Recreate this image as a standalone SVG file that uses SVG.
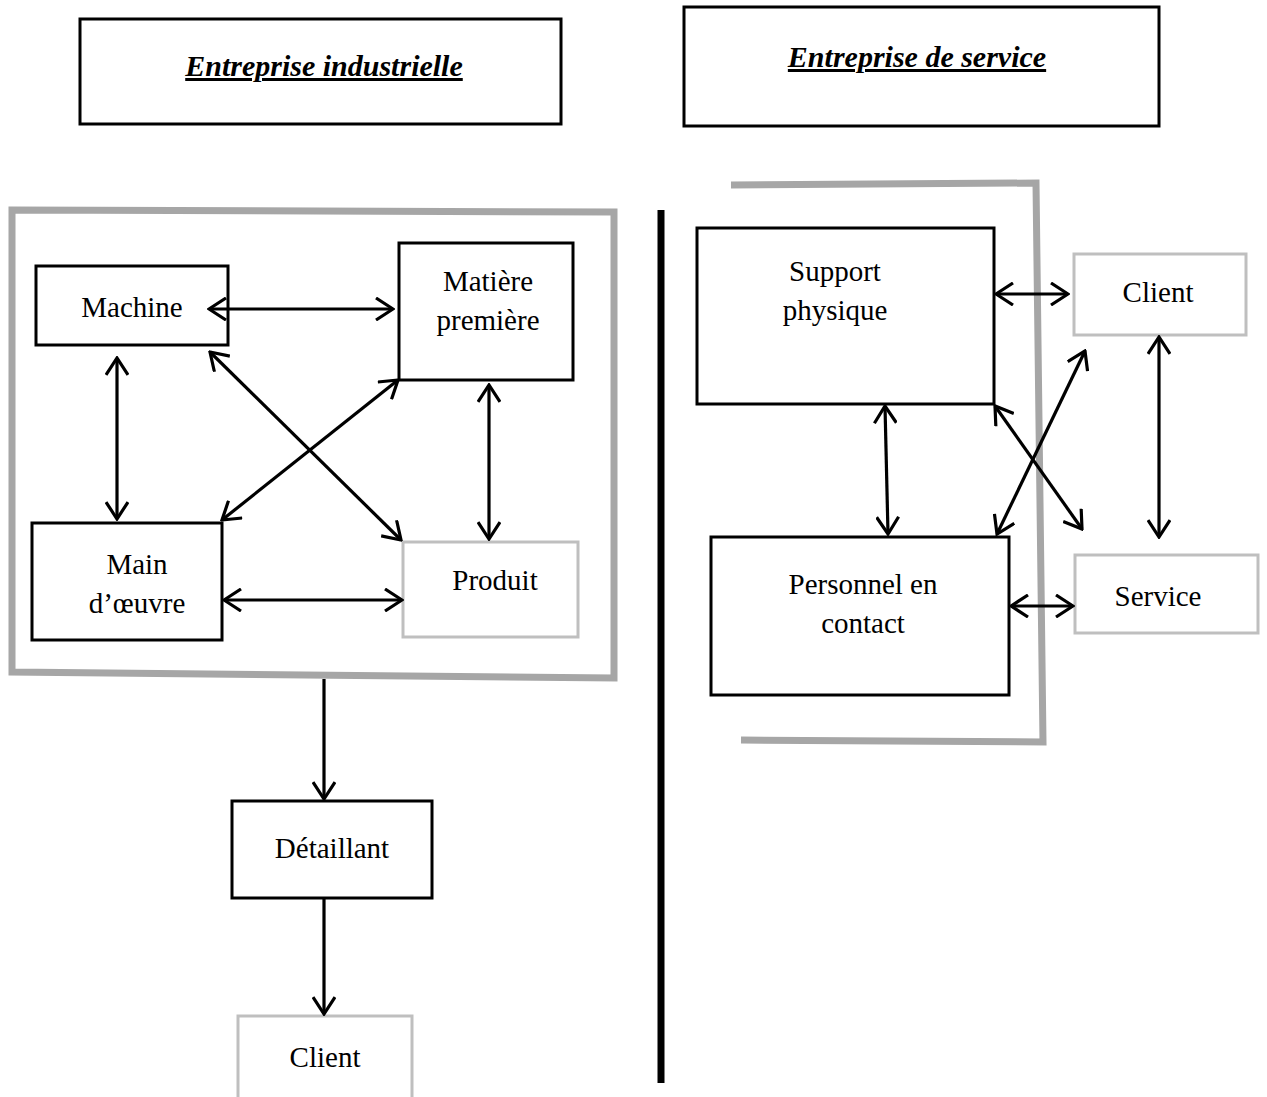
<svg xmlns="http://www.w3.org/2000/svg" width="1267" height="1097" viewBox="0 0 1267 1097">
  <style>
    .box { fill: #ffffff; stroke: #000000; stroke-width: 3; }
    .gbox { fill: #ffffff; stroke: #bfbfbf; stroke-width: 3; }
    .frame { fill: none; stroke: #a6a6a6; stroke-width: 7; }
    .lbl { font-family: "Liberation Serif", "Times New Roman", serif; font-size: 29px; fill: #000000; text-anchor: middle; }
    .title { font-family: "Liberation Serif", "Times New Roman", serif; font-size: 30px; font-weight: bold; font-style: italic; text-decoration: underline; fill: #000000; text-anchor: middle; }
    .conn { stroke: #000000; stroke-width: 3.2; fill: none; }
  </style>
  <defs>
    <marker id="arr" markerUnits="userSpaceOnUse" markerWidth="24" markerHeight="24" viewBox="0 0 24 24" refX="22" refY="12" orient="auto-start-reverse">
      <path d="M5,1 L22,12 L5,23" fill="none" stroke="#000000" stroke-width="3.2"/>
    </marker>
  </defs>
  <rect width="1267" height="1097" fill="#ffffff"/>

  <!-- headers -->
  <g id="header-industrielle">
    <rect class="box" x="80" y="19" width="481" height="105"/>
    <text class="title" x="324" y="76">Entreprise industrielle</text>
  </g>
  <g id="header-service">
    <rect class="box" x="684" y="7" width="475" height="119"/>
    <text class="title" x="917" y="67">Entreprise de service</text>
  </g>

  <!-- enclosures -->
  <g id="frame-industrielle">
    <path class="frame" d="M12,210 L614,212 L614,678 L12,672 Z"/>
  </g>
  <g id="frame-service">
    <path class="frame" d="M731,185 L1036,183 L1043,742 L741,740"/>
  </g>
  <g id="separator">
    <line x1="661" y1="210" x2="661" y2="1083" stroke="#000000" stroke-width="7"/>
  </g>

  <!-- industrial side nodes -->
  <g id="machine">
    <rect class="box" x="36" y="266" width="192" height="79"/>
    <text class="lbl" x="132" y="317">Machine</text>
  </g>
  <g id="matiere">
    <rect class="box" x="399" y="243" width="174" height="137"/>
    <text class="lbl" x="488" y="291">Matière</text>
    <text class="lbl" x="488" y="330">première</text>
  </g>
  <g id="main-oeuvre">
    <rect class="box" x="32" y="523" width="190" height="117"/>
    <text class="lbl" x="137" y="574">Main</text>
    <text class="lbl" x="137" y="613">d’œuvre</text>
  </g>
  <g id="produit">
    <rect class="gbox" x="403" y="542" width="175" height="95"/>
    <text class="lbl" x="495" y="590">Produit</text>
  </g>
  <g id="detaillant">
    <rect class="box" x="232" y="801" width="200" height="97"/>
    <text class="lbl" x="332" y="858">Détaillant</text>
  </g>
  <g id="client-industrie">
    <rect class="gbox" x="238" y="1016" width="174" height="90"/>
    <text class="lbl" x="325" y="1067">Client</text>
  </g>

  <!-- service side nodes -->
  <g id="support">
    <rect class="box" x="697" y="228" width="297" height="176"/>
    <text class="lbl" x="835" y="281">Support</text>
    <text class="lbl" x="835" y="320">physique</text>
  </g>
  <g id="client-service">
    <rect class="gbox" x="1074" y="254" width="172" height="81"/>
    <text class="lbl" x="1158" y="302">Client</text>
  </g>
  <g id="personnel">
    <rect class="box" x="711" y="537" width="298" height="158"/>
    <text class="lbl" x="863" y="594">Personnel en</text>
    <text class="lbl" x="863" y="633">contact</text>
  </g>
  <g id="service">
    <rect class="gbox" x="1075" y="555" width="183" height="78"/>
    <text class="lbl" x="1158" y="606">Service</text>
  </g>

  <!-- connectors -->
  <g id="connectors">
    <line class="conn" x1="209" y1="309" x2="393" y2="309" marker-start="url(#arr)" marker-end="url(#arr)"/>
    <line class="conn" x1="117" y1="358" x2="117" y2="519" marker-start="url(#arr)" marker-end="url(#arr)"/>
    <line class="conn" x1="210" y1="352" x2="401" y2="540" marker-start="url(#arr)" marker-end="url(#arr)"/>
    <line class="conn" x1="222" y1="520" x2="398" y2="380" marker-start="url(#arr)" marker-end="url(#arr)"/>
    <line class="conn" x1="489" y1="385" x2="489" y2="539" marker-start="url(#arr)" marker-end="url(#arr)"/>
    <line class="conn" x1="224" y1="600" x2="402" y2="600" marker-start="url(#arr)" marker-end="url(#arr)"/>
    <line class="conn" x1="324" y1="679" x2="324" y2="799" marker-end="url(#arr)"/>
    <line class="conn" x1="324" y1="898" x2="324" y2="1014" marker-end="url(#arr)"/>

    <line class="conn" x1="996" y1="294" x2="1068" y2="294" marker-start="url(#arr)" marker-end="url(#arr)"/>
    <line class="conn" x1="885" y1="406" x2="888" y2="534" marker-start="url(#arr)" marker-end="url(#arr)"/>
    <line class="conn" x1="995" y1="406" x2="1082" y2="529" marker-start="url(#arr)" marker-end="url(#arr)"/>
    <line class="conn" x1="997" y1="534" x2="1085" y2="351" marker-start="url(#arr)" marker-end="url(#arr)"/>
    <line class="conn" x1="1159" y1="337" x2="1159" y2="537" marker-start="url(#arr)" marker-end="url(#arr)"/>
    <line class="conn" x1="1011" y1="606" x2="1073" y2="606" marker-start="url(#arr)" marker-end="url(#arr)"/>
  </g>
</svg>
